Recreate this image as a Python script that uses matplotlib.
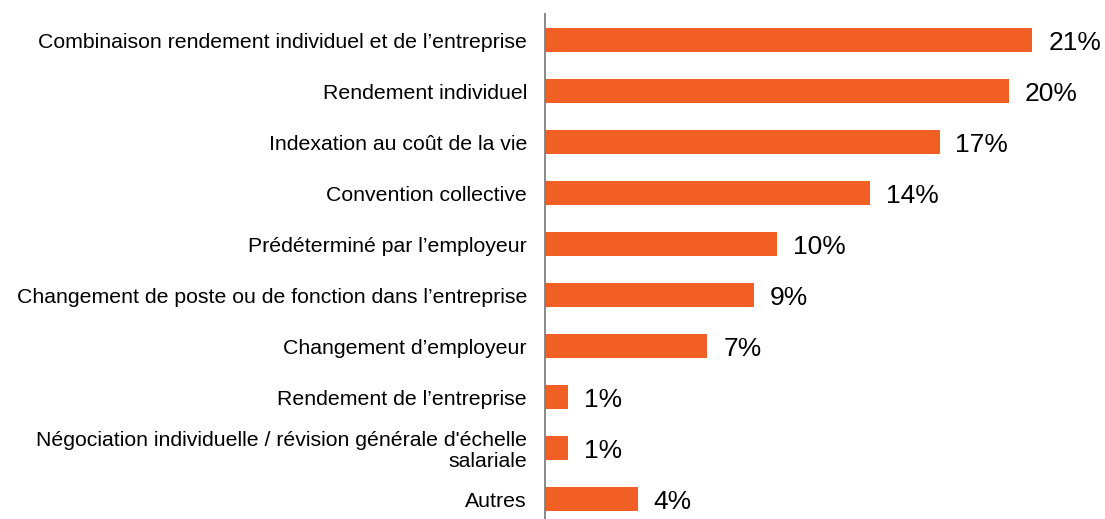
import matplotlib
matplotlib.use("Agg")
import matplotlib.pyplot as plt

categories = [
    "Combinaison rendement individuel et de l\u2019entreprise",
    "Rendement individuel",
    "Indexation au co\u00fbt de la vie",
    "Convention collective",
    "Pr\u00e9d\u00e9termin\u00e9 par l\u2019employeur",
    "Changement de poste ou de fonction dans l\u2019entreprise",
    "Changement d\u2019employeur",
    "Rendement de l\u2019entreprise",
    "N\u00e9gociation individuelle / r\u00e9vision g\u00e9n\u00e9rale d'\u00e9chelle\nsalariale",
    "Autres",
]
values = [21, 20, 17, 14, 10, 9, 7, 1, 1, 4]

plt.rcParams['font.family'] = ['Liberation Sans', 'DejaVu Sans']

fig = plt.figure(figsize=(11.05, 5.19), dpi=100)
ax = fig.add_axes([0.4932, 0.0, 0.5041, 0.973])

pos = list(range(len(values)))
ax.barh(pos, values, height=0.47, color="#F15F25")
for p, v in zip(pos, values):
    ax.text(v + 0.68, p + 0.05, "%d%%" % v, va="center", ha="left", fontsize=19, color="black")

ax.set_yticks(pos)
ax.set_yticklabels(categories, fontsize=15.3, ha="right", multialignment="right", linespacing=1.1)
ax.tick_params(axis="y", length=0, pad=13)
ax.set_ylim(9.39, -0.51)
ax.set_xlim(0, 24)
ax.set_xticks([])
for s in ["top", "right", "bottom"]:
    ax.spines[s].set_visible(False)
ax.spines["left"].set_color("#808080")
ax.spines["left"].set_linewidth(1.3)

fig.savefig("out.png", dpi=100)
